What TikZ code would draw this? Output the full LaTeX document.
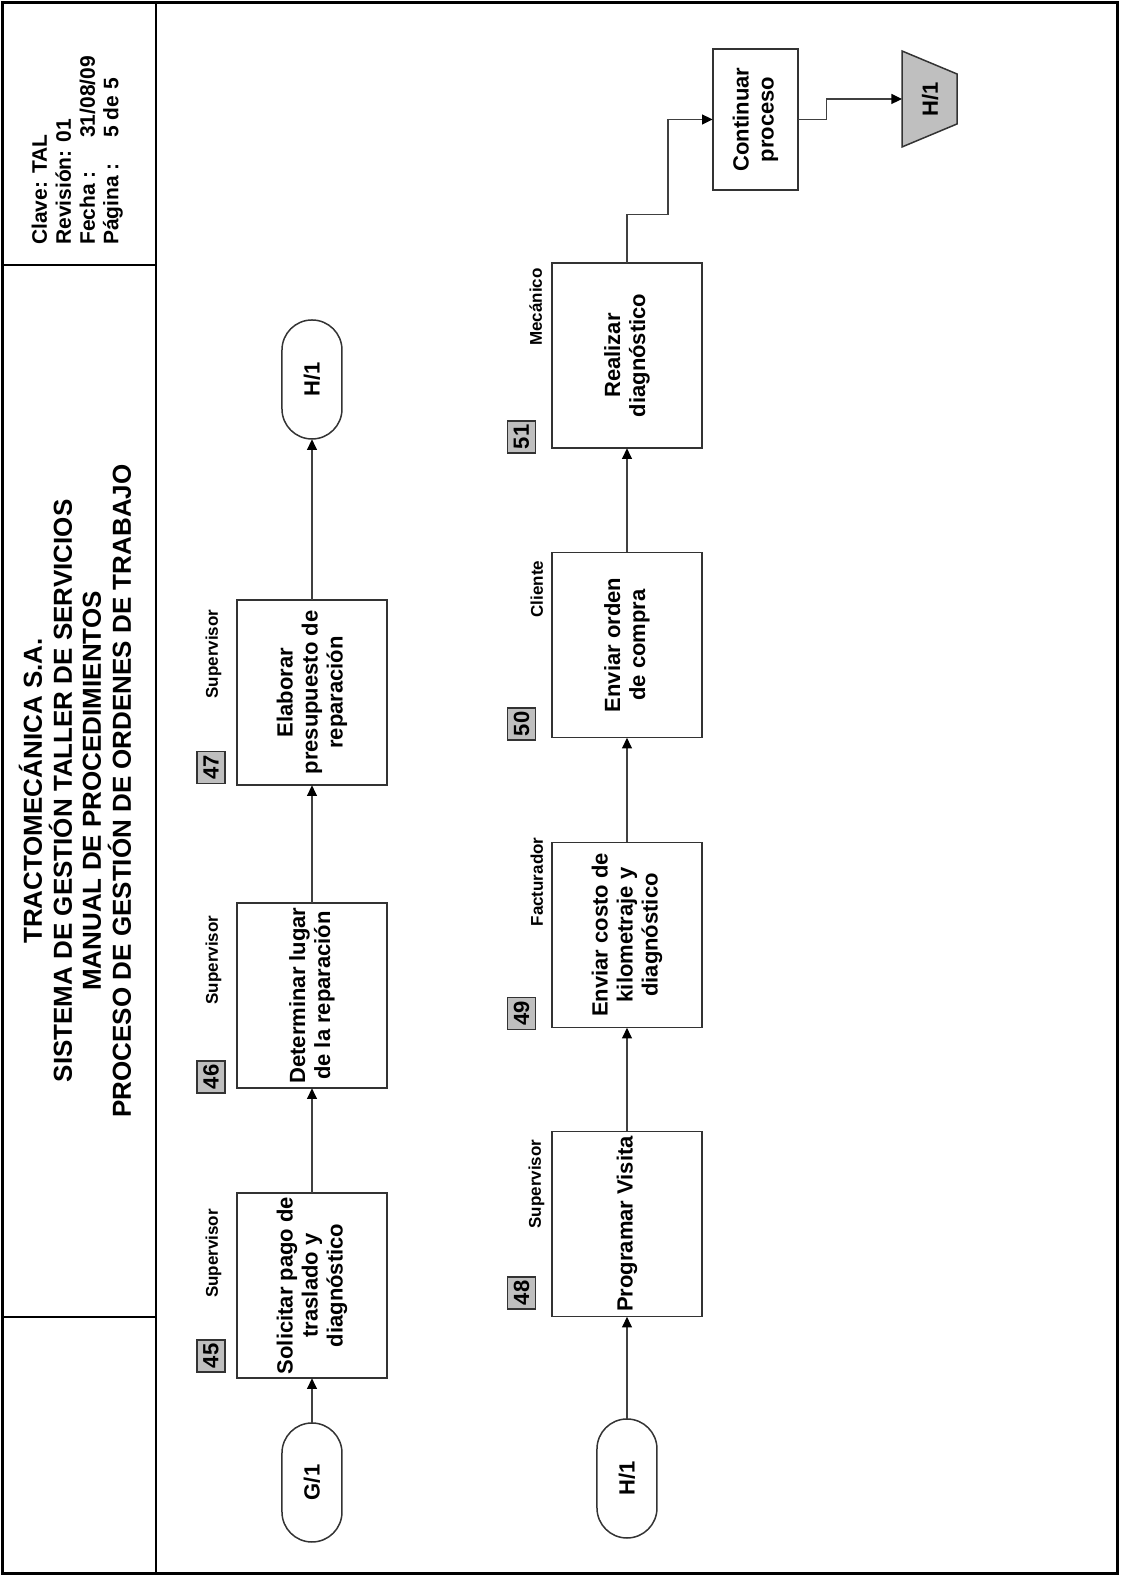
\documentclass[tikz,border=0pt]{standalone}
\usepackage{fontspec}
\setmainfont{Liberation Sans}
\usetikzlibrary{arrows.meta,shapes.misc}
\newcommand{\bfsize}[2]{\fontsize{#1}{#2}\selectfont\bfseries}
\begin{document}
\begin{tikzpicture}[x=1pt,y=1pt,
  lbl/.style={inner sep=0pt, text=black},
  titleline/.style={lbl, anchor=base, font=\bfsize{26}{29}},
  infoline/.style={lbl, anchor=base west, font=\bfsize{21}{24}},
  proc/.style={draw=black!80, line width=0.75pt, rectangle, minimum width=185pt, minimum height=150pt, align=center, inner sep=0pt, font=\bfsize{22}{25}},
  term/.style={draw=black!80, line width=0.75pt, rounded rectangle, minimum width=119pt, minimum height=60pt, inner sep=0pt, font=\bfsize{22}{25}},
  badge/.style={draw=black!80, line width=0.75pt, fill=black!25, minimum width=32pt, minimum height=28pt, inner sep=0pt, font=\bfsize{22}{25}},
  role/.style={lbl, anchor=base, font=\bfsize{17}{20}},
  flow/.style={draw=black!75, line width=0.6pt, -{Triangle[length=5.3pt,width=5pt,color=black]}},
  pageframe/.style={draw=black, line width=1.5pt},
  hdrrule/.style={draw=black, line width=1.2pt},
]
\begin{scope}[rotate=90, scale=0.5, transform shape]
\useasboundingbox (0,0) rectangle (1577,1120);

% page frame and header strip
\draw[pageframe] (3,3) rectangle (1574,1117);
\draw[hdrrule] (3,964) -- (1574,964);
\draw[hdrrule] (260,964) -- (260,1117);
\draw[hdrrule] (1312,964) -- (1312,1117);

% header titles
\node[titleline] (t1) at (786,1078) {TRACTOMECÁNICA S.A.};
\node[titleline] (t2) at (786,1048) {SISTEMA DE GESTIÓN TALLER DE SERVICIOS};
\node[titleline] (t3) at (786,1019) {MANUAL DE PROCEDIMIENTOS};
\node[titleline] (t4) at (786,989) {PROCESO DE GESTIÓN DE ORDENES DE TRABAJO};

% document data
\node[infoline] (i1) at (1332,1073) {Clave: TAL};
\node[infoline] (i2) at (1332,1049) {Revisión: 01};
\node[infoline] (i3) at (1332,1025) {Fecha :};
\node[infoline] (i3v) at (1439,1025) {31/08/09};
\node[infoline] (i4) at (1332,1001.5) {Página :};
\node[infoline] (i4v) at (1439,1001.5) {5 de 5};

% upper lane
\node[term] (g1) at (94.5,808) {G/1};
\node[proc] (b45) at (291.5,808) {Solicitar pago de\\traslado y\\diagnóstico};
\node[proc] (b46) at (581.5,808) {Determinar lugar\\de la reparación};
\node[proc] (b47) at (884.5,808) {Elaborar\\presupuesto de\\reparación};
\node[term] (h1a) at (1197.5,808) {H/1};

\node[badge] (n45) at (221,909) {45};
\node[badge] (n46) at (500,909) {46};
\node[badge] (n47) at (809.5,909) {47};
\node[role] (r45) at (323.5,902) {Supervisor};
\node[role] (r46) at (617,902) {Supervisor};
\node[role] (r47) at (923,902) {Supervisor};

% lower lane
\node[term] (h1b) at (98.5,493) {H/1};
\node[proc] (b48) at (353,493) {Programar Visita};
\node[proc] (b49) at (642,493) {Enviar costo de\\kilometraje y\\diagnóstico};
\node[proc] (b50) at (932,493) {Enviar orden\\de compra};
\node[proc] (b51) at (1221.5,493) {Realizar\\diagnóstico};
\node[proc, minimum width=141pt, minimum height=85pt] (cont) at (1457.5,364.5) {Continuar\\proceso};

\node[badge] (n48) at (284,598.5) {48};
\node[badge] (n49) at (563.5,598.5) {49};
\node[badge] (n50) at (853,598.5) {50};
\node[badge] (n51) at (1140,598.5) {51};
\node[role] (r48) at (393,579) {Supervisor};
\node[role] (r49) at (695,577) {Facturador};
\node[role] (r50) at (988,577) {Cliente};
\node[role] (r51) at (1270,578) {Mecánico};

% off-page connector
\draw[draw=black!80, line width=0.75pt, fill=black!25]
  (1430,218) -- (1526,218) -- (1503,163) -- (1453,163) -- cycle;
\node[lbl, font=\bfsize{22}{25}] (off) at (1478,190) {H/1};
\coordinate (offin) at (1478,218);

% connectors
\draw[flow] (g1.east) -- (b45.west);
\draw[flow] (b45.east) -- (b46.west);
\draw[flow] (b46.east) -- (b47.west);
\draw[flow] (b47.east) -- (h1a.west);
\draw[flow] (h1b.east) -- (b48.west);
\draw[flow] (b48.east) -- (b49.west);
\draw[flow] (b49.east) -- (b50.west);
\draw[flow] (b50.east) -- (b51.west);
\draw[flow] (b51.east) -- ++(48,0) -- ++(0,-41) -| (cont.north);
\draw[flow] (cont.south) -- ++(0,-28) -| (offin);
\end{scope}
\end{tikzpicture}
\end{document}
